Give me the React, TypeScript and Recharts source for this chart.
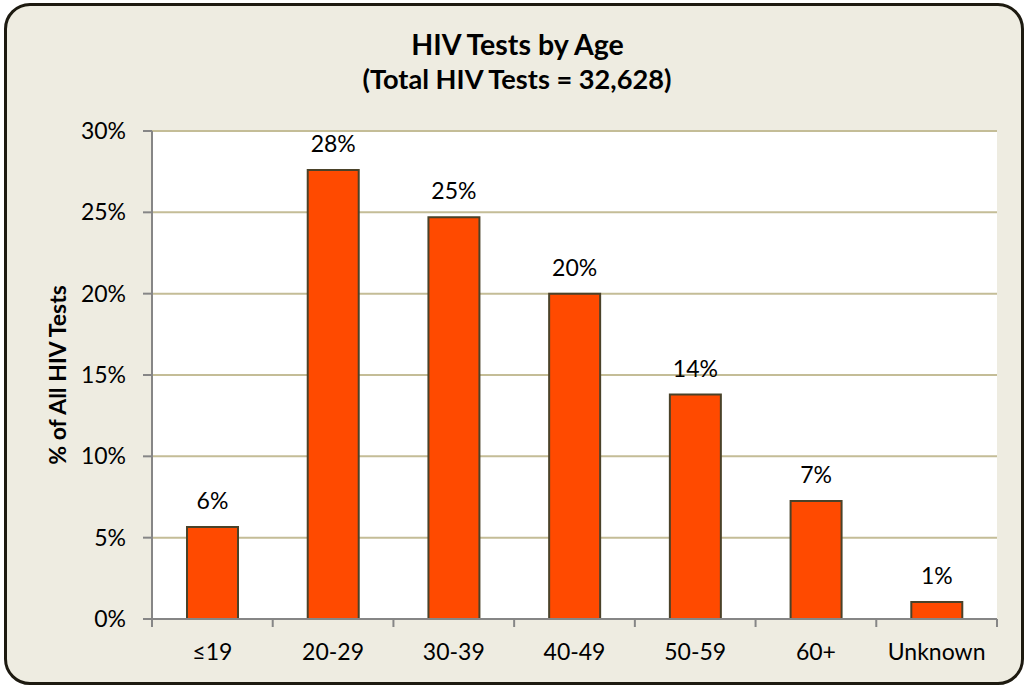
import React from 'react';
import { BarChart, Bar, XAxis, YAxis, CartesianGrid, LabelList } from 'recharts';

const categories = ['≤19', '20-29', '30-39', '40-49', '50-59', '60+', 'Unknown'];
const percentValues = [5.65, 27.6, 24.7, 20.0, 13.8, 7.25, 1.04];
const yTicks = [0, 5, 10, 15, 20, 25, 30];
const titleText = 'HIV Tests by Age';
const subtitleText = '(Total HIV Tests = 32,628)';
const yAxisTitle = '% of All HIV Tests';

const data = categories.map((c, i) => ({ category: c, value: percentValues[i] }));

const FONT = 'Lato, "Noto Sans", sans-serif';
const AXIS_GREY = '#868686';

const XTick = (props: any) => {
  const { x, y, payload, index, visibleTicksCount } = props;
  const off = payload && typeof payload.offset === 'number' ? payload.offset : 60;
  const isLast = index === (visibleTicksCount ?? categories.length) - 1;
  return (
    <g>
      <line x1={x - off} y1={y} x2={x - off} y2={y + 8} stroke={AXIS_GREY} strokeWidth={2} />
      {isLast && <line x1={x + off} y1={y} x2={x + off} y2={y + 8} stroke={AXIS_GREY} strokeWidth={2} />}
      <text x={x} y={y + 25} dy="0.71em" textAnchor="middle" fill="#000" fontSize={23} fontFamily={FONT}>
        {payload.value}
      </text>
    </g>
  );
};

export default function App() {
  return (
    <div style={{ position: 'absolute', left: 0, top: 0, width: 1026, height: 687, fontFamily: FONT }}>
      <div
        style={{
          position: 'absolute',
          left: 4,
          top: 3,
          width: 1014,
          height: 676,
          border: '3px solid #1d1a10',
          borderRadius: 26,
          background: '#EEECE1',
        }}
      />
      <div style={{ position: 'absolute', left: 0, width: 1035, top: 26, textAlign: 'center', fontWeight: 700, fontSize: 28.5, color: '#000', lineHeight: '36px' }}>
        {titleText}
      </div>
      <div style={{ position: 'absolute', left: 0, width: 1034, top: 61, textAlign: 'center', fontWeight: 700, fontSize: 27.2, color: '#000', lineHeight: '36px' }}>
        {subtitleText}
      </div>
      <div style={{ position: 'absolute', left: 0, top: 0 }}>
        <BarChart
          width={1026}
          height={687}
          data={data}
          margin={{ top: 131, right: 29, bottom: 28, left: 92 }}
          barCategoryGap="29%"
        >
          <CartesianGrid vertical={false} stroke="#C4BD97" strokeWidth={2} fill="#ffffff" />
          <YAxis
            type="number"
            domain={[0, 30]}
            ticks={yTicks}
            tickFormatter={(v: number) => `${v}%`}
            width={60}
            axisLine={{ stroke: AXIS_GREY, strokeWidth: 2 }}
            tickLine={{ stroke: AXIS_GREY, strokeWidth: 2 }}
            tickSize={9}
            tickMargin={17}
            tick={{ fill: '#000', fontSize: 23, fontFamily: FONT }}
            label={{
              value: yAxisTitle,
              angle: -90,
              position: 'insideLeft',
              offset: -34,
              style: { textAnchor: 'middle', fontWeight: 700, fontSize: 23, fill: '#000', fontFamily: FONT },
            }}
          />
          <XAxis
            dataKey="category"
            height={40}
            axisLine={{ stroke: AXIS_GREY, strokeWidth: 2 }}
            tickLine={false}
            tickSize={0}
            tickMargin={0}
            interval={0}
            tick={<XTick />}
          />
          <Bar dataKey="value" fill="#FF4A00" stroke="#4A4229" strokeWidth={2} isAnimationActive={false}>
            <LabelList
              dataKey="value"
              position="top"
              offset={18}
              formatter={(v: number) => `${Math.round(v)}%`}
              style={{ fill: '#000', fontSize: 23, fontFamily: FONT }}
            />
          </Bar>
        </BarChart>
      </div>
    </div>
  );
}
